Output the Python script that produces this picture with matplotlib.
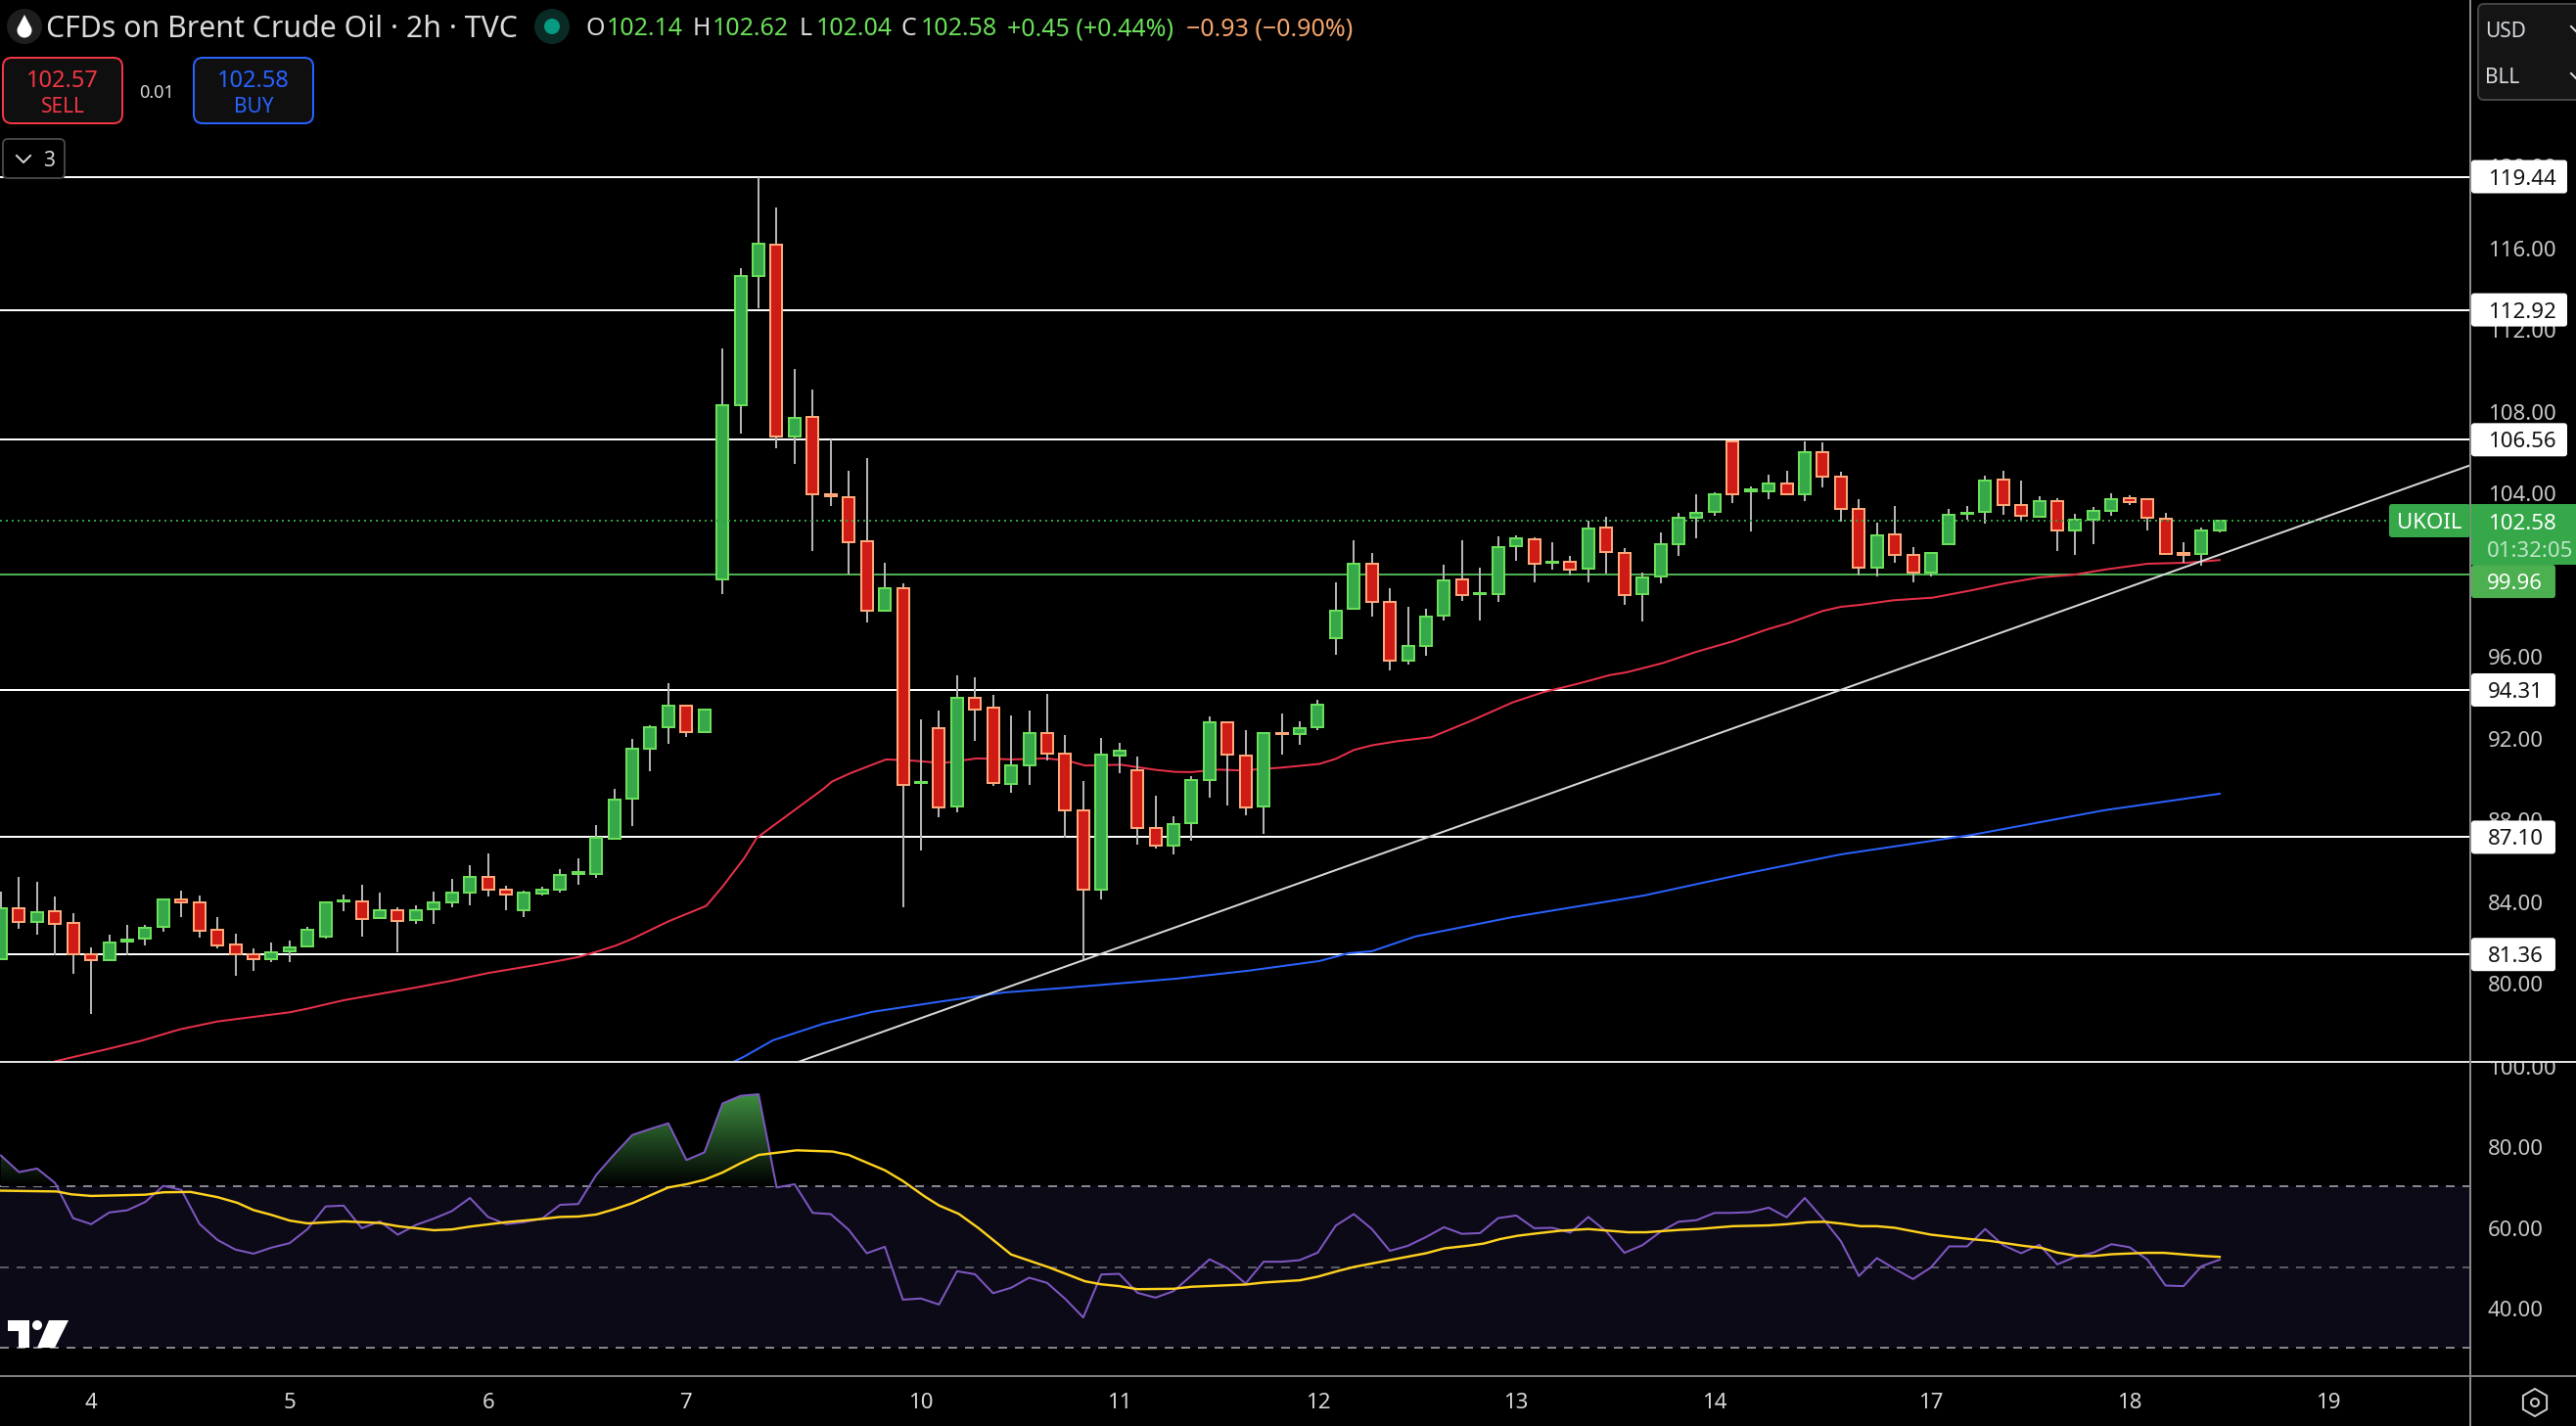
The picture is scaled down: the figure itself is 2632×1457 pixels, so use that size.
import numpy as np
import matplotlib
matplotlib.use('Agg')
import matplotlib.pyplot as plt
from matplotlib.colors import LinearSegmentedColormap
from matplotlib.patches import Circle, FancyBboxPatch, Rectangle, RegularPolygon
from matplotlib.path import Path

plt.rcParams['font.family'] = ['Noto Sans', 'DejaVu Sans']

# Свечи UKOIL, 2h
opens = [81.14, 83.63, 82.95, 83.49, 82.92, 81.38, 81.08, 82.00, 82.13, 82.71,
         84.07, 83.92, 82.58, 81.86, 81.38, 81.14, 81.51, 81.75, 82.23, 83.95,
         83.97, 83.14, 83.54, 83.04, 83.57, 83.91, 84.39, 85.17, 84.55, 83.52,
         84.34, 84.53, 85.30, 85.30, 87.03, 89.00, 91.45, 92.51, 93.56, 92.23,
         99.73, 108.26, 114.59, 116.10, 106.73, 107.66, 103.87, 103.77, 101.61, 98.19,
         99.30, 89.76, 92.46, 88.61, 93.94, 93.46, 89.71, 90.62, 92.22, 91.21,
         88.43, 84.55, 91.10, 90.40, 87.55, 86.69, 87.79, 89.90, 92.75, 91.10,
         88.61, 92.22, 92.15, 92.49, 96.85, 98.29, 100.51, 98.64, 95.75, 96.47,
         97.95, 99.74, 99.00, 99.00, 101.35, 101.71, 100.54, 100.60, 100.25, 102.28,
         101.04, 99.00, 99.87, 101.45, 102.74, 103.03, 106.50, 104.04, 104.04, 104.44,
         103.89, 105.97, 104.77, 103.18, 100.30, 101.95, 100.94, 100.06, 101.45, 102.94,
         103.03, 104.63, 103.38, 102.79, 103.58, 102.12, 102.65, 103.08, 103.72, 103.67,
         102.71, 101.04, 100.97, 102.14]
closes = [83.63, 82.95, 83.44, 82.85, 81.37, 81.08, 81.96, 82.10, 82.68, 84.07,
          83.91, 82.52, 81.80, 81.37, 81.14, 81.48, 81.72, 82.58, 83.92, 84.03,
          83.09, 83.54, 83.00, 83.54, 83.92, 84.40, 85.17, 84.53, 84.29, 84.40,
          84.55, 85.26, 85.38, 87.05, 88.94, 91.41, 92.51, 93.56, 92.27, 93.33,
          108.23, 114.56, 116.15, 106.73, 107.61, 103.87, 103.82, 101.55, 98.19, 99.30,
          89.66, 89.82, 88.58, 93.94, 93.35, 89.76, 90.64, 92.22, 91.20, 88.42,
          84.55, 91.16, 91.36, 87.57, 86.69, 87.76, 89.92, 92.75, 91.15, 88.58,
          92.19, 92.17, 92.46, 93.61, 98.21, 100.51, 98.62, 95.75, 96.48, 97.92,
          99.69, 98.96, 99.07, 101.32, 101.75, 100.49, 100.60, 100.20, 102.23, 101.07,
          98.96, 99.84, 101.47, 102.76, 103.00, 103.91, 103.89, 104.12, 104.44, 103.89,
          105.97, 104.76, 103.18, 100.30, 101.90, 100.92, 100.06, 101.04, 102.90, 103.00,
          104.58, 103.37, 102.84, 103.58, 102.12, 102.65, 103.10, 103.67, 103.51, 102.74,
          100.97, 100.92, 102.14, 102.58]
highs = [84.42, 85.14, 84.90, 84.18, 83.36, 81.69, 82.31, 82.79, 82.79, 84.08,
         84.47, 84.23, 83.17, 82.36, 81.64, 81.93, 82.02, 82.69, 83.94, 84.27,
         84.75, 84.37, 83.65, 83.75, 84.42, 85.04, 85.71, 86.29, 84.71, 84.47,
         84.66, 85.52, 86.09, 87.68, 89.49, 91.90, 92.56, 94.64, 93.56, 93.37,
         111.03, 114.96, 119.44, 117.94, 110.02, 109.02, 106.57, 105.03, 105.66, 100.53,
         99.52, 92.86, 93.29, 95.01, 94.92, 94.06, 93.05, 93.29, 94.10, 92.09,
         89.84, 91.95, 91.71, 91.04, 89.12, 88.11, 90.08, 93.00, 92.75, 92.33,
         92.19, 93.14, 92.76, 93.82, 99.57, 101.63, 101.00, 99.28, 98.37, 98.27,
         100.43, 101.63, 100.28, 101.82, 101.87, 101.77, 101.53, 100.86, 102.58, 102.78,
         101.24, 100.04, 102.01, 102.97, 103.88, 103.97, 106.51, 104.26, 104.84, 105.03,
         106.47, 106.42, 104.98, 103.64, 102.49, 103.30, 101.29, 101.04, 103.16, 103.30,
         104.79, 105.03, 104.55, 103.78, 103.69, 102.92, 103.26, 103.93, 103.83, 103.67,
         102.97, 101.53, 102.25, 102.62]
lows = [81.08, 82.60, 82.31, 81.30, 80.39, 78.43, 81.08, 81.30, 81.78, 82.45,
        83.17, 82.17, 81.64, 80.30, 80.54, 81.01, 81.01, 81.75, 82.12, 83.46,
        82.21, 83.14, 81.49, 82.84, 82.88, 83.65, 83.75, 84.18, 83.51, 83.17,
        84.23, 84.37, 84.75, 85.09, 86.97, 87.63, 90.31, 91.66, 92.00, 92.19,
        99.01, 106.86, 113.00, 106.14, 105.37, 101.10, 103.31, 99.98, 97.60, 98.14,
        83.67, 86.44, 88.07, 88.30, 91.80, 89.60, 89.26, 89.65, 90.84, 87.06,
        81.15, 84.04, 90.22, 86.72, 86.53, 86.24, 86.91, 89.02, 88.64, 88.16,
        87.25, 91.13, 91.61, 92.33, 96.02, 98.22, 97.89, 95.25, 95.54, 95.97,
        97.70, 98.66, 97.70, 98.61, 100.62, 99.57, 100.19, 99.90, 99.57, 100.01,
        98.46, 97.65, 99.52, 100.86, 101.72, 102.82, 103.45, 102.06, 103.64, 103.83,
        103.54, 104.21, 102.54, 99.90, 99.85, 100.52, 99.57, 99.85, 101.45, 102.63,
        102.44, 102.87, 102.54, 102.79, 101.10, 100.91, 101.43, 102.82, 103.35, 102.11,
        100.97, 100.54, 100.38, 102.04]

# Горизонтальные уровни и их подписи
levels = [119.44, 112.92, 106.56, 94.31, 87.10, 81.36]
level_labels = ['119.44', '112.92', '106.56', '94.31', '87.10', '81.36']
green_level = 99.96
last_price = 102.58
price_ticks = [120, 116, 112, 108, 104, 100, 96, 92, 88, 84, 80]

# Наклонная линия тренда: номер бара и цена на концах
trend_bars = [44.2, 136.95]
trend_prices = [76.10, 105.33]

# Красная средняя
ema_red_bars = [3, 6, 7.8, 9.9, 12, 16, 17, 19, 22.8, 24.9, 27, 29.9, 32, 33, 34.1, 35, 37, 39.1,
                40, 41.2, 41.9, 45.6, 46.06, 47.1, 49.07, 50.4, 52.2, 54.1, 56.07, 58, 59.2, 60.1,
                62.1, 64, 65.1, 66, 67.5, 68.8, 71, 73.1, 74, 75, 76, 77.4, 79.3, 81.5, 83.8, 85.5,
                87.4, 89.2, 90.1, 92.1, 94, 96, 98, 99.1, 101, 102, 103.1, 104.9, 107.1, 109.2,
                111.1, 113, 114.9, 116.6, 119, 121.2, 123]
ema_red = [76.13, 76.75, 77.14, 77.69, 78.08, 78.53, 78.71, 79.12, 79.71, 80.06, 80.45, 80.88,
           81.23, 81.49, 81.80, 82.13, 82.98, 83.74, 84.68, 86.07, 87.07, 89.47, 89.82, 90.24,
           90.91, 90.86, 90.73, 90.96, 90.91, 90.96, 90.83, 90.61, 90.65, 90.40, 90.30, 90.29,
           90.41, 90.37, 90.51, 90.69, 90.94, 91.37, 91.60, 91.80, 92.00, 92.80, 93.70, 94.20,
           94.61, 95.04, 95.17, 95.62, 96.18, 96.69, 97.30, 97.58, 98.18, 98.38, 98.48, 98.70,
           98.83, 99.18, 99.53, 99.82, 99.95, 100.20, 100.49, 100.54, 100.67]

# Синяя средняя
ema_blue_bars = [40.6, 41.2, 42.8, 45.6, 48.3, 51.9, 55.6, 59.2, 65.2, 69.1, 73.1, 74.7, 76, 78.4,
                 83.8, 91.1, 96.6, 102, 109.3, 116.6, 123]
ema_blue = [76.10, 76.36, 77.16, 77.97, 78.55, 79.03, 79.50, 79.74, 80.18, 80.56, 81.04, 81.42,
            81.52, 82.24, 83.19, 84.25, 85.30, 86.26, 87.22, 88.42, 89.23]

# RSI по барам
rsi = [77.6, 73.5, 74.4, 70.8, 62.1, 60.6, 63.5, 64.05, 66.1, 70.1,
       69.1, 60.7, 56.7, 54.3, 53.3, 54.8, 55.9, 59.4, 65.0, 65.2,
       59.6, 61.3, 58.0, 60.4, 62.0, 63.85, 67.1, 62.4, 60.6, 61.1,
       62.0, 65.4, 65.6, 72.8, 77.9, 82.7, 84.2, 85.6, 76.5, 78.4,
       90.5, 92.4, 92.8, 69.7, 70.5, 63.4, 63.1, 59.2, 53.4, 55.0,
       41.9, 42.2, 40.7, 48.95, 48.2, 43.5, 44.85, 47.35, 46.05, 42.1,
       37.5, 48.15, 48.3, 43.6, 42.4, 44.0, 47.9, 51.9, 49.7, 45.9,
       51.3, 51.3, 51.7, 53.55, 60.25, 63.1, 59.4, 54.0, 55.25, 57.4,
       59.85, 58.2, 58.4, 62.1, 62.75, 59.6, 59.7, 58.5, 62.4, 58.8,
       53.5, 55.4, 58.7, 61.2, 61.6, 63.4, 63.4, 63.6, 64.7, 62.3,
       67.1, 62.0, 56.4, 47.75, 52.2, 49.5, 47.0, 49.9, 55.1, 55.1,
       59.4, 55.4, 53.4, 55.5, 50.65, 52.5, 53.55, 55.65, 54.9, 51.8,
       45.4, 45.25, 50.2, 51.8]

# Сглаженная линия RSI
rsi_ma_bars = [0, 3.1, 3.9, 5, 8, 9, 10.5, 12, 13.1, 14, 15, 16, 17, 19, 21, 22, 24, 25, 26, 28, 30,
               31, 32, 33, 34, 35, 37, 38, 39, 40, 41, 42, 44.1, 46.1, 47, 49, 50, 51.2, 52, 53.1,
               54.2, 56, 58.1, 60.1, 61, 62, 63, 65, 66, 67.1, 69, 70, 72, 73, 74.2, 75, 77.1, 79,
               80, 81.4, 82.2, 83.1, 84.1, 85.3, 86.5, 88, 90.2, 91.2, 93.1, 94.1, 96, 98, 99,
               100.2, 101.1, 102.1, 103.1, 104, 105, 107, 109.2, 110.2, 112.1, 113.1, 114, 115.1,
               116, 117, 118.9, 119.9, 122, 123]
rsi_ma = [68.9, 68.7, 68.0, 67.6, 67.9, 68.5, 68.6, 67.3, 65.9, 64.1, 62.9, 61.5, 60.8, 61.3, 60.9,
          60.1, 59.1, 59.3, 60.0, 61.1, 61.9, 62.4, 62.5, 63.0, 64.3, 65.8, 69.7, 70.5, 71.6, 73.4,
          75.7, 77.75, 78.9, 78.6, 77.75, 73.96, 71.3, 67.5, 65.25, 63.15, 59.6, 53.1, 49.9, 46.45,
          45.7, 45.25, 44.5, 44.6, 45.1, 45.3, 45.65, 46.15, 46.7, 47.6, 49.1, 50.0, 51.8, 53.4,
          54.6, 55.3, 55.8, 56.9, 57.75, 58.4, 59.0, 59.4, 58.6, 58.6, 59.2, 59.4, 60.1, 60.3, 60.6,
          61.1, 61.2, 60.7, 60.1, 60.1, 59.7, 58.0, 56.9, 56.5, 55.25, 54.75, 53.55, 52.75, 52.7,
          53.15, 53.5, 53.5, 52.75, 52.5]
rsi_ticks = [100, 80, 60, 40]

# Подписи дат и бары, на которые они приходятся
date_bars = [5, 16, 27, 38, 51, 62, 73, 84, 95, 107, 118, 129]
date_labels = ['4', '5', '6', '7', '10', '11', '12', '13', '14', '17', '18', '19']

W, H = 2632, 1457
AXIS_X, PRICE_BOTTOM, RSI_BOTTOM = 2524, 1085, 1406
BAR_STEP = 18.43
PRICE_LIM = (76.10, 128.09)
RSI_LIM = (22.97, 100.8)
X_LIM = (-1 / BAR_STEP, (AXIS_X - 1) / BAR_STEP)

UP_BODY, UP_EDGE = '#36A84A', '#6BDF5A'
DOWN_BODY, DOWN_EDGE = '#CF1B16', '#FFA97A'
PX = 0.72  # один пиксель в пунктах при dpi=100


def pane(left, top, right, bottom, ylim, xlim):
    ax = fig.add_axes([left / W, 1 - bottom / H, (right - left) / W, (bottom - top) / H])
    ax.set_facecolor('black')
    ax.set_xlim(xlim)
    ax.set_ylim(ylim)
    for spine in ax.spines.values():
        spine.set_visible(False)
    ax.set_xticks([])
    ax.set_yticks([])
    return ax


def price_y(price):
    return (PRICE_LIM[1] - price) * PRICE_BOTTOM / (PRICE_LIM[1] - PRICE_LIM[0])


def rounded(x0, y0, x1, y1, face, edge='none', lw=0, radius=3):
    ui.add_patch(FancyBboxPatch((x0 + radius, y0 + radius), x1 - x0 - 2 * radius, y1 - y0 - 2 * radius,
                                boxstyle=f'round,pad={radius},rounding_size={radius}',
                                fc=face, ec=edge, lw=lw))


def label(x, y, s, color, size=16, ha='left', weight='normal'):
    ui.text(x, y, s, color=color, fontsize=size, ha=ha, va='center_baseline', fontweight=weight)


def scale_tick(axis, value):
    axis.annotate(f'{value:.2f}', (18 / (W - AXIS_X), value), xytext=(0, -1), textcoords='offset points',
                  color='#C8C8C8', fontsize=16, va='center_baseline', clip_on=True)


fig = plt.figure(figsize=(W / 100, H / 100), dpi=100, facecolor='black')

ax = pane(0, 0, AXIS_X, PRICE_BOTTOM, PRICE_LIM, X_LIM)
ax_rsi = pane(0, PRICE_BOTTOM, AXIS_X, RSI_BOTTOM, RSI_LIM, X_LIM)
scale_price = pane(AXIS_X, 0, W, PRICE_BOTTOM, PRICE_LIM, (0, 1))
scale_rsi = pane(AXIS_X, PRICE_BOTTOM, W, RSI_BOTTOM, RSI_LIM, (0, 1))

# Ценовая панель
for level in levels:
    ax.axhline(level, color='white', lw=2 * PX, zorder=2)
ax.axhline(green_level, color='#4CAF50', lw=2 * PX, zorder=2)
ax.plot(ema_red_bars, ema_red, color='#E8304A', lw=2 * PX, zorder=3)
ax.plot(ema_blue_bars, ema_blue, color='#2962FF', lw=2 * PX, zorder=3)

bars = np.arange(len(opens))
o, c, h, l = map(np.array, (opens, closes, highs, lows))
up = c >= o
ax.vlines(bars, l, h, color='#B4B4B4', lw=2 * PX, zorder=4)
ax.bar(bars, np.abs(c - o), bottom=np.minimum(o, c), width=12 / BAR_STEP,
       color=np.where(up, UP_BODY, DOWN_BODY),
       edgecolor=np.where(up, UP_EDGE, DOWN_EDGE), linewidth=2 * PX, zorder=5)

ax.plot(trend_bars, trend_prices, color='#D8D8D8', lw=2 * PX, zorder=6)
ax.axhline(last_price, color='#2E9E3E', lw=2 * PX, ls=(0, (1, 2)), zorder=7)

# Панель RSI
ax_rsi.axhspan(30, 70, color='#0D0A18', lw=0, zorder=1)
ax_rsi.axhline(70, color='#85858C', lw=2 * PX, ls=(0, (4.5, 4)), zorder=2)
ax_rsi.axhline(50, color='#5A5A62', lw=2 * PX, ls=(0, (4.5, 4)), zorder=2)
ax_rsi.axhline(30, color='#85858C', lw=2 * PX, ls=(0, (4.5, 4)), zorder=2)

# Градиентная заливка зоны выше 70
rsi_arr = np.array(rsi)
above = ax_rsi.fill_between(bars, 70, rsi_arr, where=rsi_arr >= 70, interpolate=True,
                            facecolor='none', edgecolor='none')
gradient = LinearSegmentedColormap.from_list('rsi_green', ['black', '#3E8E41'])
im = ax_rsi.imshow(np.linspace(1, 0, 256)[:, None], extent=(X_LIM[0], X_LIM[1], 70, 93),
                   aspect='auto', cmap=gradient, zorder=3)
im.set_clip_path(Path.make_compound_path(*above.get_paths()), transform=ax_rsi.transData)
ax_rsi.set_xlim(X_LIM)
ax_rsi.set_ylim(RSI_LIM)

ax_rsi.plot(bars, rsi, color='#7E57C2', lw=2 * PX, zorder=4)
ax_rsi.plot(rsi_ma_bars, rsi_ma, color='#FFD21E', lw=2.4 * PX, zorder=5)

ax_rsi.set_xticks(date_bars, date_labels)
ax_rsi.tick_params(axis='x', length=0, pad=12.5, labelsize=16, labelcolor='#D8D8D8')

# Шкалы справа
for tick in price_ticks:
    scale_tick(scale_price, tick)
for tick in rsi_ticks:
    scale_tick(scale_rsi, tick)

# Элементы интерфейса поверх графика
ui = fig.add_axes([0, 0, 1, 1], facecolor='none', zorder=10)
ui.set_xlim(0, W)
ui.set_ylim(H, 0)
ui.axis('off')

ui.plot([0, W], [PRICE_BOTTOM, PRICE_BOTTOM], color='#E0E0E0', lw=2 * PX, zorder=1)
ui.plot([0, W], [RSI_BOTTOM, RSI_BOTTOM], color='#808080', lw=2 * PX, zorder=1)
ui.plot([AXIS_X, AXIS_X], [0, H], color='#8A8A8A', lw=2 * PX, zorder=1)

# Заголовок и значения OHLC
ui.add_patch(Circle((25, 27), 18, fc='#1E1E1E', ec='none'))
arc = np.linspace(-0.2 * np.pi, 1.2 * np.pi, 40)
ui.fill(np.r_[25, 25 + 7.5 * np.cos(arc)], np.r_[15, 31 + 7.5 * np.sin(arc)], color='white', lw=0)
label(47, 27, 'CFDs on Brent Crude Oil · 2h · TVC', '#DADADA', size=21.8)
ui.add_patch(Circle((564, 27), 18, fc='#0A2A26', ec='none'))
ui.add_patch(Circle((564, 27), 8, fc='#089981', ec='none'))

GREY_TXT, GREEN_TXT = '#D8D8D8', '#6BDF5A'
for x, s, color in [(599, 'O', GREY_TXT), (620, '102.14', GREEN_TXT),
                    (708, 'H', GREY_TXT), (728, '102.62', GREEN_TXT),
                    (817, 'L', GREY_TXT), (834, '102.04', GREEN_TXT),
                    (921, 'C', GREY_TXT), (941, '102.58', GREEN_TXT),
                    (1029, '+0.45 (+0.44%)', GREEN_TXT),
                    (1212, '−0.93 (−0.90%)', '#F5A46C')]:
    label(x, 27, s, color, size=18)

# Кнопки SELL / BUY
rounded(3, 59, 125, 126, '#0F0F0F', '#F23645', 2 * PX, radius=9)
label(64, 80, '102.57', '#F23645', size=17, ha='center', weight='bold')
label(64, 107, 'SELL', '#F23645', size=15, ha='center')
label(160, 93, '0.01', '#D8D8D8', size=13, ha='center')
rounded(198, 59, 320, 126, '#0F0F0F', '#2962FF', 2 * PX, radius=9)
label(259, 80, '102.58', '#2962FF', size=17, ha='center', weight='bold')
label(259, 107, 'BUY', '#2962FF', size=15, ha='center')

# Кнопка свёрнутых индикаторов
rounded(3, 142, 66, 182, '#000000', '#444444', 2 * PX, radius=5)
ui.plot([17, 24, 31], [159, 166, 159], color='#D8D8D8', lw=2 * PX)
label(50, 162, '3', '#D8D8D8', size=15, ha='center')

# Блок валюты и единиц
rounded(2532, 4, 2660, 102, '#141414', '#444444', 2 * PX, radius=6)
label(2539, 30, 'USD', '#D6DAE0', size=15)
label(2539, 77, 'BLL', '#D6DAE0', size=15)
ui.plot([2627, 2632], [27, 32], color='#D6DAE0', lw=2 * PX)
ui.plot([2627, 2632], [75, 80], color='#D6DAE0', lw=2 * PX)

# Подписи уровней на шкале
for level, text in zip(levels, level_labels):
    y = price_y(level)
    rounded(2525, y - 17, 2525 + (98 if len(text) == 6 else 86), y + 17, 'white', radius=3)
    label(2542, y, text, '#111111')

y_last = price_y(green_level)
rounded(2525, y_last - 10, 2611, y_last + 24, '#4CAF50', radius=3)
label(2541, y_last + 7, f'{green_level:.2f}', 'white', weight='medium')

ui.add_patch(Rectangle((2525, 515), W - 2525, 62, fc='#36A84A', ec='none'))
rounded(2441, 515, 2524, 549, '#36A84A', radius=3)
label(2482, 532, 'UKOIL', 'white', ha='center', weight='medium')
label(2542, 533, f'{last_price:.2f}', 'white', weight='medium')
label(2541, 561, '01:32:05', '#BFE5C4')

# Логотип в углу панели RSI
ui.fill([8, 30, 30, 19, 19, 8], [1349, 1349, 1377, 1377, 1360, 1360], color='white', lw=0)
ui.add_patch(Circle((38, 1354), 5, fc='white', ec='none'))
ui.fill([38, 50, 70, 56], [1377, 1349, 1349, 1377], color='white', lw=0)

# Значок настроек шкалы
ui.add_patch(RegularPolygon((2590, 1433), 6, radius=14, fc='none', ec='#CCCCCC', lw=2 * PX))
ui.add_patch(Circle((2590, 1433), 4, fc='none', ec='#CCCCCC', lw=2 * PX))

fig.savefig('out.png', dpi=100, facecolor='black')
